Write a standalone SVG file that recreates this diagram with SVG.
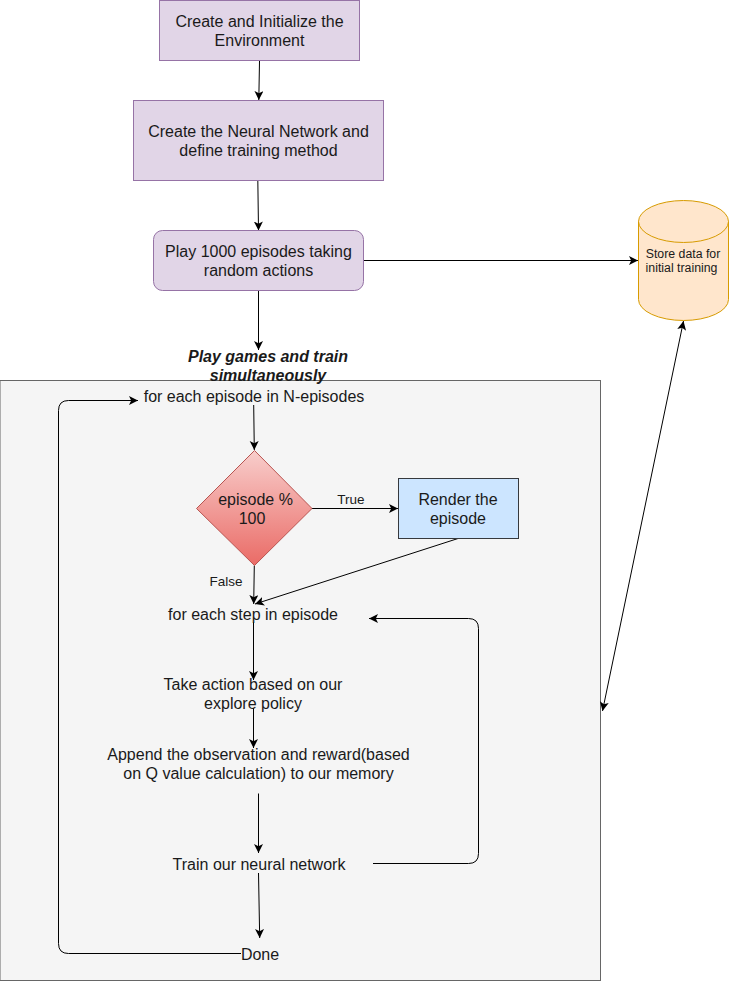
<svg xmlns="http://www.w3.org/2000/svg" width="729" height="981" viewBox="0 0 729 981">
<style>
text{font-family:"Liberation Sans",Arial,sans-serif;font-size:16px;fill:#1a1a1a;text-anchor:middle}
.s{font-size:12.3px}
.l{font-size:13.5px}
.c{fill:none;stroke:#000;stroke-width:1}
.p{fill:#e1d5e7;stroke:#9673a6;stroke-width:1}
</style>
<defs>
<marker id="a" markerWidth="12" markerHeight="10" refX="9" refY="4.5" orient="auto-start-reverse" markerUnits="userSpaceOnUse"><path d="M0 0L9 4.5L0 9L2.2 4.5Z" fill="#000"/></marker>
<linearGradient id="g" x1="0" y1="0" x2="0" y2="1"><stop offset="0" stop-color="#f8cecc"/><stop offset="1" stop-color="#ea6b66"/></linearGradient>
</defs>
<rect id="loop-frame" x="0" y="380.500" width="600.500" height="600" fill="#f5f5f5" stroke="#666"/>
<g id="connectors">
<path class="c" d="M259.500 61L258.800 100" marker-end="url(#a)"/>
<path class="c" d="M257.700 171L258.500 230.500" marker-end="url(#a)"/>
<path class="c" d="M258.500 291V350" marker-end="url(#a)"/>
<path class="c" d="M364 260.500H638" marker-end="url(#a)"/>
<path class="c" d="M683.500 321L602.500 711" marker-start="url(#a)" marker-end="url(#a)"/>
<path class="c" d="M253.700 405L254.300 450" marker-end="url(#a)"/>
<path class="c" d="M311.500 508.500H398" marker-end="url(#a)"/>
<path class="c" d="M254.300 565.500L253.700 604" marker-end="url(#a)"/>
<path class="c" d="M458 538.500L255 604" marker-end="url(#a)"/>
<path class="c" d="M253.500 622V680" marker-end="url(#a)"/>
<path class="c" d="M253.500 708V748" marker-end="url(#a)"/>
<path class="c" d="M258.500 793.500V853" marker-end="url(#a)"/>
<path class="c" d="M258.500 873L259.700 938" marker-end="url(#a)"/>
<path class="c" d="M373 863.500H468.500Q478.500 863.500 478.500 853.500V628.500Q478.500 618.500 468.500 618.500H369" marker-end="url(#a)"/>
<path class="c" d="M241 953.500H68.500Q58.500 953.500 58.500 943.500V410.500Q58.500 400.500 68.500 400.500H138" marker-end="url(#a)"/>
</g>
<g id="n-create-env"><rect class="p" x="159.500" y="0.500" width="200" height="60"/><text x="259.500" y="26.500">Create and Initialize the</text><text x="259.500" y="45.500">Environment</text></g>
<g id="n-create-nn"><rect class="p" x="133.500" y="100.500" width="250" height="80"/><text x="258.500" y="136.500">Create the Neural Network and</text><text x="258.500" y="155.500">define training method</text></g>
<g id="n-random"><rect class="p" x="153.500" y="230.500" width="210" height="60" rx="9"/><text x="258.500" y="256.500">Play 1000 episodes taking</text><text x="258.500" y="275.500">random actions</text></g>
<g id="n-store"><path d="M638.500 221.500A45 21 0 0 1 728.500 221.500V299.500A45 21 0 0 1 638.500 299.500Z" fill="#ffe6cc" stroke="#d79b00"/><path d="M638.500 221.500A45 21 0 0 0 728.500 221.500" fill="none" stroke="#d79b00"/><text class="s" x="683" y="258">Store data for</text><text class="s" x="681.500" y="272">initial training</text></g>
<g id="n-play-label"><text x="268" y="362" font-weight="bold" font-style="italic">Play games and train</text><text x="268" y="381" font-weight="bold" font-style="italic">simultaneously</text></g>
<g id="n-each-episode"><text x="254" y="401.500">for each episode in N-episodes</text></g>
<g id="n-diamond"><path d="M254.500 450.500L312 508.500L254.500 565.500L196.500 508.500Z" fill="url(#g)" stroke="#b85450"/><text x="255.500" y="504.500">episode %</text><text x="252" y="523.500">100</text></g>
<g id="n-true"><text class="l" x="351" y="504">True</text></g>
<g id="n-false"><text class="l" x="226" y="586">False</text></g>
<g id="n-render"><rect x="398.500" y="478.500" width="120" height="60" fill="#cce5ff" stroke="#36393d"/><text x="458" y="504.500">Render the</text><text x="458" y="523.500">episode</text></g>
<g id="n-each-step"><text x="253" y="619.500">for each step in episode</text></g>
<g id="n-action"><text x="253" y="689.500">Take action based on our</text><text x="253" y="708.500">explore policy</text></g>
<g id="n-append"><text x="258.500" y="759.500">Append the observation and reward(based</text><text x="258.500" y="778.500">on Q value calculation) to our memory</text></g>
<g id="n-train"><text x="259" y="869.500">Train our neural network</text></g>
<g id="n-done"><text x="260" y="959.500">Done</text></g>
</svg>
